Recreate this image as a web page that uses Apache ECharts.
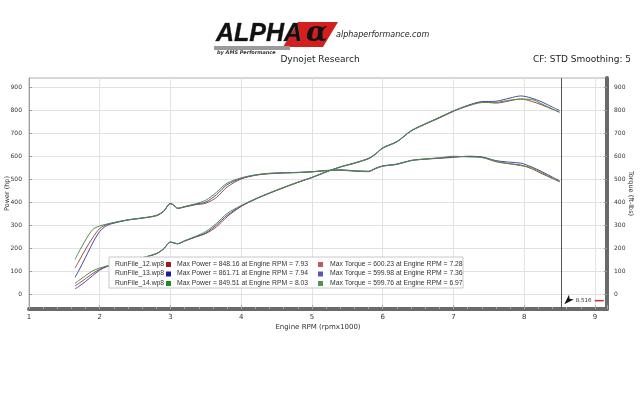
<!DOCTYPE html>
<html>
<head>
<meta charset="utf-8">
<script src="https://cdn.jsdelivr.net/npm/echarts@6/dist/echarts.min.js"></script>
<style>
html,body{margin:0;padding:0;background:#fff;}
#c{width:640px;height:403px;}
</style>
</head>
<body>
<div id="c"></div>
<script>
// ---- data ----
const rpm = [1.65,1.7,1.8,1.9,2.0,2.1,2.2,2.4,2.6,2.8,2.9,3.0,3.05,3.1,3.2,3.35,3.5,3.65,3.8,4.0,4.2,4.4,4.6,4.8,5.0,5.2,5.4,5.6,5.8,5.9,6.0,6.2,6.4,6.6,6.8,7.0,7.2,7.4,7.6,7.8,7.95,8.1,8.25,8.4,8.5];

const power12 = [36,45,67,89,108,121,128,143,157,175,195,225,222,218,230,247,263,292,336,381,412,438,462,485,506,530,552,568,588,608,634,662,708,738,765,794,818,835,830,840,848,838,822,803,790];
const power13 = [23,32,55,80,104,119,128,143,157,176,196,226,222,219,231,248,266,300,342,382,413,439,463,486,507,531,553,570,590,610,636,663,710,740,767,796,820,836,838,852,861,852,835,812,798];
const power14 = [47,58,80,101,113,122,129,144,158,176,196,226,223,219,232,250,272,307,350,385,414,440,464,486,507,532,552,569,589,609,635,661,709,739,768,796,817,832,833,843,847,846,826,804,791];

const torque12 = [113,140,195,245,285,302,310,322,330,340,358,393,386,372,378,388,395,420,465,500,516,523,526,528,531,536,538,534,532,545,556,564,580,586,590,594,599,595,575,566,561,545,523,502,488];
const torque13 = [72,100,160,222,272,298,308,322,330,342,360,394,385,373,380,390,400,432,475,503,517,524,527,529,532,537,540,536,534,547,557,565,581,587,591,596,598,596,580,573,569,553,532,508,493];
const torque14 = [150,180,235,280,296,304,311,323,331,341,359,392,386,373,380,392,408,442,482,505,518,525,527,528,531,537,539,535,533,546,556,563,580,587,592,599,596,593,578,566,558,550,527,504,489];

const runNames = ['RunFile_12.wp8','RunFile_13.wp8','RunFile_14.wp8'];
const maxPower = ['848.16','861.71','849.51'];
const maxPowerRpm = ['7.93','7.94','8.03'];
const maxTorque = ['600.23','599.98','599.76'];
const maxTorqueRpm = ['7.28','7.36','6.97'];

const xTicks = [1,2,3,4,5,6,7,8,9];
const yTicks = [0,100,200,300,400,500,600,700,800,900];
const cursorRpm = 8.516;

// ---- styling ----
const lineColors = ['#a04848','#4a4aa6','#4a904a'];
const powerSq = ['#a01c1c','#1c1c9c','#1c8c1c'];
const torqueSq = ['#c45a5a','#5a5ab4','#4e964e'];
const FONT = 'DejaVu Sans';
const LFONT = 'Liberation Sans';

function pairs(vals){ return rpm.map((r,i)=>[r, vals[i]]); }
const powers = [power12, power13, power14];
const torques = [torque12, torque13, torque14];

const series = [];
for (let i=0;i<3;i++){
  series.push({type:'line', name:runNames[i]+' power', data:pairs(powers[i]), yAxisIndex:0,
    showSymbol:false, smooth:0.3, lineStyle:{width:1,color:lineColors[i]}, itemStyle:{color:lineColors[i]}, z:3});
  series.push({type:'line', name:runNames[i]+' torque', data:pairs(torques[i]), yAxisIndex:1,
    showSymbol:false, smooth:0.3, lineStyle:{width:1,color:lineColors[i]}, itemStyle:{color:lineColors[i]}, z:3});
}
// cursor line
series.push({type:'line', data:[], yAxisIndex:0, silent:true,
  markLine:{silent:true, symbol:'none', animation:false, label:{show:false},
    lineStyle:{color:'#555', width:1, type:'solid'}, data:[{xAxis:cursorRpm}]},
  markPoint:{silent:true, animation:false, data:[{coord:[cursorRpm+0.05,-44], symbol:'arrow', symbolSize:[5,10], symbolRotate:135,
    itemStyle:{color:'#111'},
    label:{show:true, position:'right', distance:2, formatter:'{a|'+cursorRpm.toFixed(3)+'} {b|}',
      rich:{a:{fontSize:5.5,color:'#333',fontFamily:FONT}, b:{width:9,height:1.5,backgroundColor:'#c03030'}}}}]}
});

// legend graphic
const legendChildren = [
  {type:'rect', z:100, shape:{x:0,y:0,width:354,height:31}, style:{fill:'#fff', stroke:'#c8c8c8', lineWidth:1}}
];
for (let i=0;i<3;i++){
  const y = 3.5 + i*9.5;
  legendChildren.push({type:'text', z:101, x:6, y:y, style:{text:runNames[i], fontSize:6.8, fontFamily:LFONT, fill:'#333'}});
  legendChildren.push({type:'rect', z:101, shape:{x:57,y:y+1.5,width:5,height:5}, style:{fill:powerSq[i]}});
  legendChildren.push({type:'text', z:101, x:68, y:y, style:{text:'Max Power = '+maxPower[i]+' at Engine RPM = '+maxPowerRpm[i], fontSize:6.8, fontFamily:LFONT, fill:'#333'}});
  legendChildren.push({type:'rect', z:101, shape:{x:209,y:y+1.5,width:5,height:5}, style:{fill:torqueSq[i]}});
  legendChildren.push({type:'text', z:101, x:221, y:y, style:{text:'Max Torque = '+maxTorque[i]+' at Engine RPM = '+maxTorqueRpm[i], fontSize:6.8, fontFamily:LFONT, fill:'#333'}});
}

const option = {
  animation:false,
  backgroundColor:'#fff',
  grid:{left:29, right:33, top:78, bottom:94, outerBoundsMode:'none', containLabel:false,
    show:true, borderColor:'#b0b0b0', borderWidth:1, backgroundColor:'#fff'},
  xAxis:{type:'value', min:1, max:9.17, interval:1,
    name:'Engine RPM (rpmx1000)', nameLocation:'middle', nameGap:15, nameMoveOverlap:false,
    nameTextStyle:{fontSize:7, color:'#333', fontFamily:FONT},
    axisLine:{show:true, onZero:false, lineStyle:{color:'#6a6a6a', width:4}},
    axisTick:{show:true, inside:true, length:4, lineStyle:{color:'#aaa'}},
    minorTick:{show:true, splitNumber:5, length:2, lineStyle:{color:'#aaa'}},
    axisLabel:{fontSize:7, color:'#333', fontFamily:FONT, margin:5, showMaxLabel:false,
      formatter:v=> xTicks.indexOf(v)>=0 ? String(v) : ''},
    splitLine:{show:true, lineStyle:{color:'#e2e2e2', width:1}}
  },
  yAxis:[
    {type:'value', min:-65, max:939, position:'left',
      name:'Power (hp)', nameLocation:'middle', nameGap:18, nameRotate:90, nameMoveOverlap:false,
      nameTextStyle:{fontSize:6.5, color:'#333', fontFamily:FONT},
      axisLine:{show:true, onZero:false, lineStyle:{color:'#a0a0a0', width:1}},
      axisTick:{show:true, inside:true, length:3, customValues:yTicks, lineStyle:{color:'#999'}},
      axisLabel:{fontSize:6, color:'#333', fontFamily:FONT, margin:7, customValues:yTicks},
      splitLine:{show:true, lineStyle:{color:'#e2e2e2', width:1}}
    },
    {type:'value', min:-65, max:939, position:'right',
      name:'Torque (ft-lbs)', nameLocation:'middle', nameGap:20, nameRotate:-90, nameMoveOverlap:false,
      nameTextStyle:{fontSize:6.5, color:'#333', fontFamily:FONT},
      axisLine:{show:true, onZero:false, lineStyle:{color:'#6a6a6a', width:4}},
      axisTick:{show:true, inside:true, length:3, customValues:yTicks, lineStyle:{color:'#999'}},
      axisLabel:{fontSize:6, color:'#333', fontFamily:FONT, margin:7, customValues:yTicks},
      splitLine:{show:false}
    }
  ],
  series: series,
  graphic:[
    // logo
    {type:'polygon', shape:{points:[[298,22],[338,22],[323,47],[283,47]]}, style:{fill:'#d41f1f'}},
    {type:'rect', shape:{x:214,y:46,width:76,height:4}, style:{fill:'#9a9a9a'}},
    {type:'text', x:216, y:22, style:{text:'ALPHA', font:'italic 900 25px "Liberation Sans"', fill:'#111', stroke:'#777', lineWidth:0.6}},
    {type:'text', x:306, y:20, style:{text:'α', font:'italic bold 28px "DejaVu Serif"', fill:'#111'}},
    {type:'text', x:217, y:50, style:{text:'by AMS Performance', font:'italic bold 5px "DejaVu Sans"', fill:'#333'}},
    {type:'text', x:336, y:31, style:{text:'alphaperformance.com', font:'italic 8px "DejaVu Sans"', fill:'#222'}},
    {type:'text', x:320, y:55, style:{text:'Dynojet Research', font:'9px "DejaVu Sans"', fill:'#222', align:'center'}},
    {type:'text', x:631, y:55, style:{text:'CF: STD Smoothing: 5', font:'9px "DejaVu Sans"', fill:'#222', align:'right'}},
    {type:'group', x:109, y:257, z:100, children:legendChildren}
  ]
};

const chart = echarts.init(document.getElementById('c'), null, {renderer:'canvas'});
chart.setOption(option);
</script>
</body>
</html>
